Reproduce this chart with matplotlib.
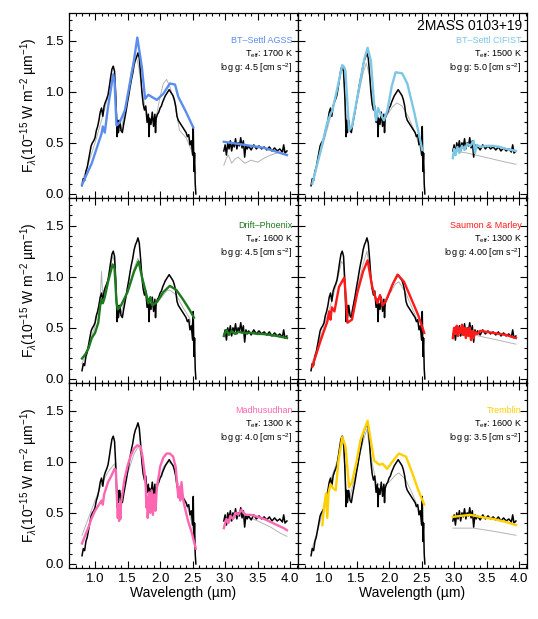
import numpy as np
import matplotlib.pyplot as plt
from matplotlib.ticker import MultipleLocator

plt.rcParams['font.family'] = ['Liberation Sans', 'DejaVu Sans']
plt.rcParams['mathtext.fontset'] = 'custom'
plt.rcParams['mathtext.rm'] = 'Liberation Sans'
plt.rcParams['mathtext.it'] = 'Liberation Sans:italic'

# observed spectrum of 2MASS 0103+19 (near-IR part and L band part)
obs_nir_wl = [0.80, 0.82, 0.84, 0.86, 0.88, 0.90, 0.92, 0.94, 0.96, 0.98,
              1.00, 1.02, 1.04, 1.06, 1.08, 1.10, 1.12, 1.14, 1.16, 1.18,
              1.20, 1.22, 1.24, 1.26, 1.28, 1.30, 1.32, 1.34, 1.35, 1.36,
              1.38, 1.40, 1.42, 1.44, 1.46, 1.48, 1.50, 1.52, 1.54, 1.56,
              1.58, 1.60, 1.62, 1.64, 1.66, 1.68, 1.70, 1.72, 1.74, 1.76,
              1.78, 1.80, 1.82, 1.83, 1.84, 1.86, 1.88, 1.90, 1.92, 1.93,
              1.94, 1.96, 1.98, 2.00, 2.02, 2.04, 2.06, 2.08, 2.10, 2.12,
              2.14, 2.16, 2.18, 2.20, 2.22, 2.24, 2.26, 2.28, 2.30, 2.32,
              2.34, 2.36, 2.38, 2.40, 2.42, 2.44, 2.46, 2.48, 2.50, 2.51,
              2.52, 2.53, 2.54, 2.55]
obs_nir_fl = [0.08, 0.15, 0.13, 0.22, 0.26, 0.33, 0.40, 0.47, 0.50, 0.52,
              0.55, 0.62, 0.66, 0.72, 0.80, 0.84, 0.76, 0.86, 0.90, 0.93,
              0.97, 1.05, 1.14, 1.22, 1.25, 1.20, 0.95, 0.56, 0.72, 0.60,
              0.72, 0.62, 0.60, 0.68, 0.75, 0.82, 0.90, 0.97, 1.05, 1.12,
              1.18, 1.26, 1.31, 1.34, 1.38, 1.33, 1.18, 1.00, 0.88, 0.82,
              0.86, 0.70, 0.78, 0.56, 0.74, 0.68, 0.80, 0.66, 0.78, 0.60,
              0.74, 0.78, 0.80, 0.84, 0.86, 0.90, 0.93, 0.96, 0.98, 1.00,
              1.02, 1.00, 0.98, 0.96, 0.92, 0.86, 0.76, 0.72, 0.70, 0.68,
              0.66, 0.64, 0.62, 0.60, 0.56, 0.58, 0.48, 0.52, 0.38, 0.66,
              0.22, 0.40, 0.10, 0.00]
obs_l_wl = [2.98, 3.00, 3.02, 3.04, 3.06, 3.08, 3.10, 3.12, 3.14, 3.16,
            3.18, 3.20, 3.22, 3.24, 3.26, 3.28, 3.30, 3.32, 3.34, 3.36,
            3.40, 3.44, 3.48, 3.52, 3.56, 3.60, 3.64, 3.68, 3.72, 3.76,
            3.80, 3.84, 3.88, 3.90, 3.92, 3.95]
obs_l_fl = [0.42, 0.48, 0.38, 0.50, 0.44, 0.52, 0.42, 0.50, 0.46, 0.54,
            0.44, 0.50, 0.47, 0.55, 0.45, 0.52, 0.36, 0.48, 0.44, 0.47,
            0.43, 0.48, 0.44, 0.47, 0.44, 0.46, 0.43, 0.46, 0.42, 0.45,
            0.42, 0.44, 0.41, 0.48, 0.40, 0.42]

# model names, parameters and colours
names = ['BT\u2013Settl AGSS', 'BT\u2013Settl CIFIST', 'Drift\u2013Phoenix',
         'Saumon & Marley', 'Madhusudhan', 'Tremblin']
teffs = [1700, 1500, 1600, 1300, 1300, 1600]
loggs = ['4.5', '5.0', '4.5', '4.00', '4.0', '3.5']
colors = ['#5b8def', '#7cc6e6', '#1e7a1e', '#ff1a1a', '#ff66b2', '#ffd000']

# best-fit model spectra (near-IR segment, L-band segment)
agss_wl = [0.80, 0.95, 1.10, 1.12, 1.15, 1.20, 1.28, 1.30, 1.33, 1.38, 1.46,
           1.59, 1.65, 1.72, 1.77, 1.82, 1.87, 1.95, 2.05, 2.15, 2.23, 2.28,
           2.40, 2.51]
agss_fl = [0.09, 0.30, 0.59, 0.66, 0.60, 0.85, 1.17, 1.10, 0.67, 0.70, 0.82,
           1.27, 1.53, 1.24, 0.93, 0.97, 0.95, 0.92, 0.98, 1.08, 1.07, 0.95,
           0.80, 0.65]
agss_lwl = [2.98, 3.30, 3.60, 3.95]
agss_lfl = [0.51, 0.48, 0.45, 0.38]

cifist_wl = [0.82, 0.90, 0.975, 1.05, 1.10, 1.13, 1.20, 1.28, 1.31, 1.33,
             1.385, 1.43, 1.54, 1.62, 1.67, 1.72, 1.77, 1.80, 1.83, 1.87,
             1.92, 1.975, 2.04, 2.10, 2.20, 2.28, 2.39, 2.51]
cifist_fl = [0.10, 0.30, 0.49, 0.70, 0.78, 0.82, 1.02, 1.26, 1.24, 1.20,
             0.62, 0.66, 1.04, 1.32, 1.43, 1.30, 0.88, 0.72, 0.84, 0.78,
             0.72, 0.82, 1.05, 1.19, 1.18, 1.08, 0.79, 0.43]
cifist_lwl = [2.98, 3.00, 3.02, 3.05, 3.08, 3.12, 3.16, 3.20, 3.25, 3.30,
              3.32, 3.35, 3.40, 3.50, 3.60, 3.70, 3.80, 3.95]
cifist_lfl = [0.35, 0.44, 0.38, 0.46, 0.40, 0.47, 0.43, 0.49, 0.47, 0.52,
              0.40, 0.48, 0.46, 0.47, 0.47, 0.46, 0.44, 0.42]

drift_wl = [0.80, 0.85, 0.90, 0.95, 1.00, 1.05, 1.08, 1.10, 1.12, 1.15, 1.20,
            1.27, 1.30, 1.33, 1.35, 1.40, 1.50, 1.60, 1.67, 1.72, 1.78, 1.82,
            1.85, 1.88, 1.95, 2.05, 2.15, 2.25, 2.35, 2.45, 2.52]
drift_fl = [0.20, 0.24, 0.30, 0.40, 0.45, 0.55, 0.72, 0.78, 0.74, 0.80, 0.95,
            1.12, 1.08, 0.75, 0.68, 0.72, 0.85, 1.05, 1.15, 1.00, 0.85, 0.74,
            0.80, 0.72, 0.75, 0.85, 0.91, 0.87, 0.78, 0.68, 0.60]
drift_lwl = [2.98, 3.02, 3.06, 3.10, 3.15, 3.20, 3.30, 3.40, 3.50, 3.60,
             3.70, 3.80, 3.95]
drift_lfl = [0.42, 0.48, 0.43, 0.47, 0.44, 0.46, 0.45, 0.45, 0.44, 0.44,
             0.43, 0.42, 0.40]

sm_wl = [0.82, 0.95, 1.05, 1.08, 1.10, 1.12, 1.16, 1.23, 1.31, 1.33, 1.36,
         1.43, 1.51, 1.60, 1.67, 1.74, 1.82, 1.86, 1.90, 1.95, 2.05, 2.13,
         2.23, 2.33, 2.45, 2.54]
sm_fl = [0.12, 0.38, 0.56, 0.66, 0.58, 0.70, 0.66, 0.90, 0.99, 0.85, 0.55,
         0.58, 0.84, 1.05, 1.16, 0.90, 0.74, 0.82, 0.72, 0.76, 0.92, 1.02,
         0.95, 0.80, 0.62, 0.45]
sm_lwl = [2.98, 3.00, 3.02, 3.04, 3.06, 3.08, 3.10, 3.12, 3.14, 3.16, 3.18,
          3.20, 3.22, 3.24, 3.26, 3.28, 3.30, 3.32, 3.36, 3.40, 3.50, 3.60,
          3.70, 3.80, 3.90, 3.95]
sm_lfl = [0.40, 0.50, 0.44, 0.52, 0.42, 0.50, 0.45, 0.53, 0.43, 0.50, 0.40,
          0.49, 0.42, 0.50, 0.38, 0.47, 0.40, 0.46, 0.44, 0.47, 0.46, 0.45,
          0.44, 0.43, 0.41, 0.40]

madhu_wl = [0.80, 0.85, 0.90, 0.95, 1.00, 1.05, 1.08, 1.10, 1.12, 1.14,
            1.17, 1.20, 1.25, 1.30, 1.32, 1.34, 1.35, 1.36, 1.37, 1.38,
            1.39, 1.40, 1.42, 1.45, 1.50, 1.55, 1.60, 1.65, 1.70, 1.73,
            1.76, 1.78, 1.79, 1.80, 1.81, 1.83, 1.85, 1.87, 1.89, 1.91,
            1.93, 1.95, 1.98, 2.00, 2.05, 2.10, 2.15, 2.20, 2.24, 2.26,
            2.28, 2.29, 2.31, 2.33, 2.35, 2.37, 2.40, 2.43, 2.46, 2.49,
            2.52, 2.55]
madhu_fl = [0.20, 0.28, 0.36, 0.45, 0.52, 0.57, 0.60, 0.62, 0.58, 0.68,
            0.74, 0.80, 0.86, 0.93, 0.92, 0.60, 0.45, 0.58, 0.42, 0.55,
            0.44, 0.60, 0.68, 0.82, 0.96, 1.06, 1.13, 1.16, 1.15, 1.05,
            0.90, 0.75, 0.55, 0.65, 0.45, 0.70, 0.50, 0.72, 0.48, 0.68,
            0.52, 0.75, 0.86, 0.95, 1.04, 1.08, 1.08, 1.05, 0.95, 0.80,
            0.65, 0.75, 0.62, 0.80, 0.65, 0.58, 0.50, 0.42, 0.36, 0.30,
            0.22, 0.15]
madhu_lwl = [2.98, 3.02, 3.05, 3.08, 3.12, 3.16, 3.20, 3.25, 3.28, 3.32,
             3.40, 3.50, 3.60, 3.70, 3.80, 3.90, 3.95]
madhu_lfl = [0.35, 0.44, 0.40, 0.47, 0.44, 0.50, 0.48, 0.53, 0.50, 0.48,
             0.48, 0.46, 0.44, 0.41, 0.38, 0.35, 0.33]

trem_wl = [0.975, 1.00, 1.03, 1.05, 1.07, 1.10, 1.14, 1.18, 1.22, 1.28, 1.33,
           1.385, 1.43, 1.50, 1.56, 1.67, 1.72, 1.77, 1.85, 1.90, 1.97, 2.05,
           2.15, 2.26, 2.35, 2.45, 2.54]
trem_fl = [0.38, 0.55, 0.69, 0.45, 0.70, 0.78, 0.74, 0.72, 1.00, 1.24, 1.15,
           0.75, 0.80, 1.00, 1.21, 1.40, 1.20, 1.01, 0.97, 0.98, 0.93, 1.00,
           1.08, 1.05, 0.90, 0.72, 0.58]
trem_lwl = [2.98, 3.10, 3.25, 3.40, 3.60, 3.80, 3.95]
trem_lfl = [0.46, 0.47, 0.48, 0.46, 0.44, 0.41, 0.38]

model_nir = [(agss_wl, agss_fl), (cifist_wl, cifist_fl), (drift_wl, drift_fl),
             (sm_wl, sm_fl), (madhu_wl, madhu_fl), (trem_wl, trem_fl)]
model_l = [(agss_lwl, agss_lfl), (cifist_lwl, cifist_lfl), (drift_lwl, drift_lfl),
           (sm_lwl, sm_lfl), (madhu_lwl, madhu_lfl), (trem_lwl, trem_lfl)]

# thin grey comparison spectra
g1_wl = [0.80, 0.90, 1.00, 1.10, 1.20, 1.26, 1.30, 1.33, 1.36, 1.40, 1.45, 1.50,
         1.55, 1.60, 1.63, 1.67, 1.72, 1.77, 1.85, 1.93, 2.00, 2.05, 2.10, 2.15,
         2.22, 2.30, 2.40, 2.50, 2.55]
g1_fl = [0.12, 0.30, 0.50, 0.72, 0.95, 1.15, 1.12, 0.80, 0.62, 0.62, 0.78, 0.95,
         1.18, 1.33, 1.35, 1.25, 1.02, 0.85, 0.70, 0.72, 0.95, 1.08, 1.12, 1.05,
         0.90, 0.62, 0.55, 0.40, 0.20]
g1_lwl = [2.98, 3.02, 3.05, 3.10, 3.15, 3.20, 3.30, 3.40, 3.50, 3.60, 3.70, 3.80,
          3.90, 3.95]
g1_lfl = [0.28, 0.35, 0.38, 0.30, 0.34, 0.36, 0.30, 0.33, 0.31, 0.35, 0.38, 0.40,
          0.42, 0.40]

g2_wl = [0.82, 0.90, 1.00, 1.10, 1.20, 1.27, 1.30, 1.34, 1.37, 1.42, 1.50, 1.60,
         1.65, 1.70, 1.76, 1.85, 1.95, 2.05, 2.12, 2.20, 2.30, 2.40, 2.50, 2.55]
g2_fl = [0.10, 0.30, 0.52, 0.75, 1.00, 1.22, 1.20, 0.75, 0.62, 0.65, 0.88, 1.18,
         1.28, 1.15, 0.85, 0.72, 0.75, 0.85, 0.89, 0.86, 0.75, 0.60, 0.40, 0.20]
g2_lwl = [2.98, 3.20, 3.40, 3.60, 3.80, 3.95]
g2_lfl = [0.42, 0.40, 0.37, 0.34, 0.31, 0.29]

g3_wl = [0.80, 0.90, 1.00, 1.08, 1.10, 1.12, 1.20, 1.27, 1.30, 1.34, 1.40, 1.50,
         1.60, 1.66, 1.72, 1.80, 1.90, 2.00, 2.10, 2.15, 2.25, 2.35, 2.45, 2.52]
g3_fl = [0.15, 0.32, 0.52, 0.80, 1.05, 0.80, 0.95, 1.20, 1.15, 0.70, 0.65, 0.85,
         1.08, 1.18, 1.02, 0.80, 0.72, 0.78, 0.86, 0.87, 0.82, 0.70, 0.60, 0.45]
g3_lwl = [2.98, 3.30, 3.60, 3.95]
g3_lfl = [0.44, 0.46, 0.43, 0.40]

g4_wl = [0.80, 0.90, 1.00, 1.10, 1.20, 1.27, 1.30, 1.34, 1.40, 1.50, 1.60, 1.66,
         1.72, 1.80, 1.90, 2.00, 2.10, 2.15, 2.25, 2.35, 2.45, 2.52]
g4_fl = [0.12, 0.32, 0.52, 0.72, 0.95, 1.15, 1.12, 0.70, 0.60, 0.85, 1.12, 1.25,
         1.00, 0.75, 0.72, 0.82, 0.93, 0.95, 0.85, 0.70, 0.55, 0.40]
g4_lwl = [2.98, 3.30, 3.60, 3.95]
g4_lfl = [0.42, 0.43, 0.39, 0.34]

g5_wl = [0.80, 0.90, 1.00, 1.10, 1.20, 1.30, 1.33, 1.36, 1.40, 1.50, 1.60, 1.67,
         1.72, 1.78, 1.85, 1.95, 2.05, 2.12, 2.20, 2.27, 2.35, 2.45, 2.52]
g5_fl = [0.28, 0.45, 0.62, 0.78, 0.90, 0.98, 0.80, 0.55, 0.65, 0.88, 1.08, 1.15,
         1.05, 0.80, 0.65, 0.72, 0.95, 1.00, 0.97, 0.80, 0.68, 0.50, 0.30]
g5_lwl = [2.98, 3.20, 3.35, 3.50, 3.70, 3.85, 3.95]
g5_lfl = [0.38, 0.47, 0.46, 0.42, 0.36, 0.30, 0.27]

g6_wl = [0.80, 0.90, 1.00, 1.10, 1.20, 1.27, 1.30, 1.34, 1.40, 1.50, 1.60, 1.66,
         1.72, 1.80, 1.90, 2.00, 2.10, 2.15, 2.25, 2.35, 2.45, 2.52]
g6_fl = [0.12, 0.32, 0.55, 0.82, 1.00, 1.20, 1.15, 0.72, 0.66, 0.92, 1.20, 1.32,
         1.05, 0.80, 0.75, 0.80, 0.87, 0.89, 0.83, 0.70, 0.55, 0.40]
g6_lwl = [2.98, 3.30, 3.60, 3.95]
g6_lfl = [0.35, 0.35, 0.32, 0.28]

grey_nir = [(g1_wl, g1_fl), (g2_wl, g2_fl), (g3_wl, g3_fl),
            (g4_wl, g4_fl), (g5_wl, g5_fl), (g6_wl, g6_fl)]
grey_l = [(g1_lwl, g1_lfl), (g2_lwl, g2_lfl), (g3_lwl, g3_lfl),
          (g4_lwl, g4_lfl), (g5_lwl, g5_lfl), (g6_lwl, g6_lfl)]

W, H = 538, 619
fig = plt.figure(figsize=(W / 100, H / 100), dpi=100)

lefts = [69, 298]
tops = [13, 198, 383]
aw, ah = 229, 185
ylab = 'F$_\\lambda$(10$^{-15}$ W m$^{-2}$ \u00b5m$^{-1}$)'

for i in range(6):
    row, col = divmod(i, 2)
    ax = fig.add_axes([lefts[col] / W, (H - tops[row] - ah) / H, aw / W, ah / H])

    for seg in (grey_nir[i], grey_l[i]):
        ax.plot(seg[0], seg[1], color='#b4b4b4', lw=0.7)
    ax.plot(obs_nir_wl, obs_nir_fl, color='black', lw=1.1)
    ax.plot(obs_l_wl, obs_l_fl, color='black', lw=1.1)
    for seg in (model_nir[i], model_l[i]):
        ax.plot(seg[0], seg[1], color=colors[i], lw=1.7)

    ax.set_xlim(0.6, 4.12)
    ax.set_ylim(-0.04, 1.77)
    ax.xaxis.set_major_locator(MultipleLocator(0.5))
    ax.xaxis.set_minor_locator(MultipleLocator(0.1))
    ax.yaxis.set_major_locator(MultipleLocator(0.5))
    ax.yaxis.set_minor_locator(MultipleLocator(0.1))
    ax.tick_params(which='both', direction='in', top=True, right=True,
                   labelsize=9.5, width=0.8)
    ax.tick_params(which='major', length=5)
    ax.tick_params(which='minor', length=2.5)
    ax.xaxis.set_major_formatter(plt.FormatStrFormatter('%.1f'))
    ax.yaxis.set_major_formatter(plt.FormatStrFormatter('%.1f'))
    for s in ax.spines.values():
        s.set_linewidth(0.9)

    if col == 0:
        ax.set_ylabel(ylab, fontsize=10, labelpad=4)
    else:
        ax.tick_params(labelleft=False)
    if row == 2:
        ax.set_xlabel('Wavelength (\u00b5m)', fontsize=10, labelpad=1)
    else:
        ax.tick_params(labelbottom=False)

    ax.text(0.978, 0.85, names[i], transform=ax.transAxes, color=colors[i],
            fontsize=6.5, ha='right', va='center')
    ax.text(0.978, 0.775, 'T$_{\\rm eff}$: %d K' % teffs[i], transform=ax.transAxes,
            fontsize=6.5, ha='right', va='center')
    ax.text(0.978, 0.70, 'log g: %s [cm s$^{-2}$]' % loggs[i], transform=ax.transAxes,
            fontsize=6.5, ha='right', va='center')
    if i == 1:
        ax.text(0.978, 0.93, '2MASS 0103+19', transform=ax.transAxes,
                fontsize=10, ha='right', va='center')

fig.savefig('out.png', dpi=100)
